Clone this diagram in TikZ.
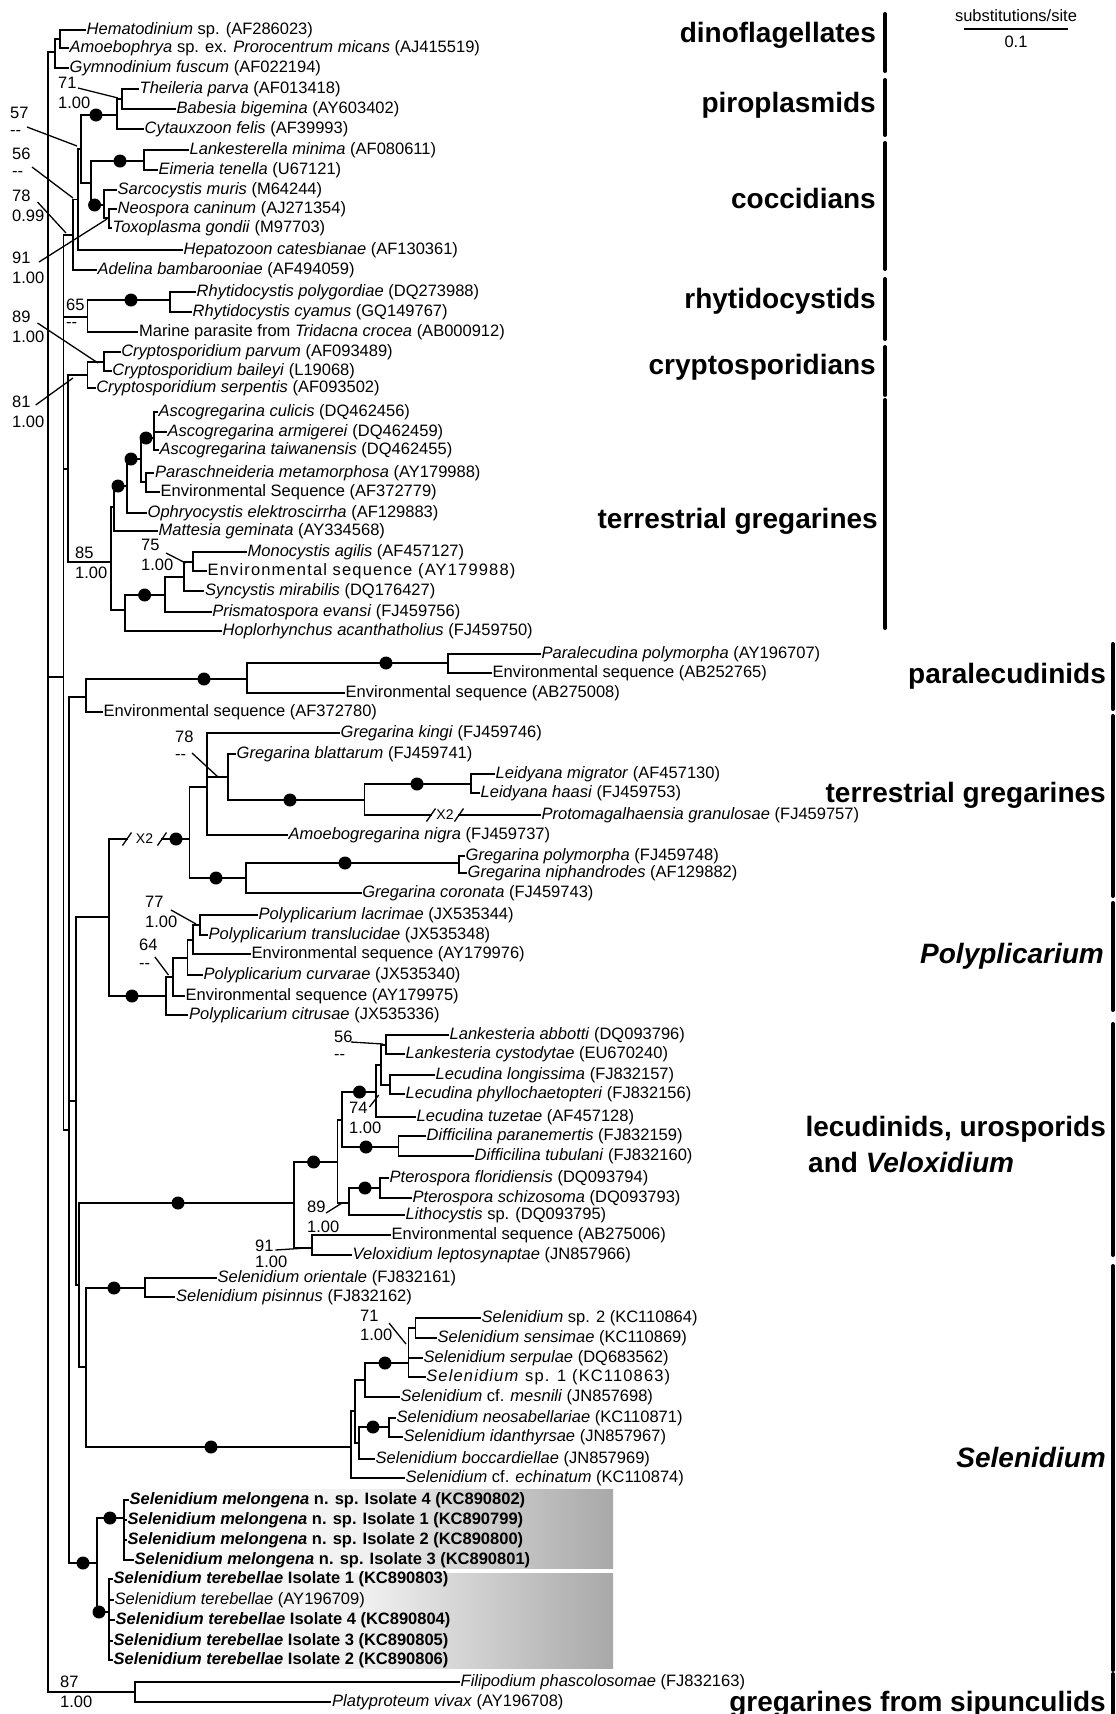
\documentclass[tikz,border=0pt]{standalone}
\usepackage{fontspec}
\setmainfont{Liberation Sans}
\newcommand{\nosupport}{-{}-}
\newcommand{\spaced}[1]{{\addfontfeature{LetterSpace=7}#1}}
\begin{document}
\begin{tikzpicture}[x=1pt,y=-1pt,
  br/.style={line width=1.8pt,line cap=rect},
  leaf/.style={anchor=west,inner sep=1.5pt,font=\fontsize{16.5}{18}\selectfont},
  supp/.style={anchor=west,inner sep=0pt,font=\fontsize{16.5}{18}\selectfont},
  bs/.style={circle,fill,inner sep=0pt,minimum size=13pt},
  ptr/.style={line width=1.3pt},
  brk/.style={inner sep=0pt,font=\fontsize{14}{16}\selectfont},
  grp/.style={anchor=east,inner sep=0pt,font=\fontsize{28}{30}\selectfont\bfseries},
  gbar/.style={line width=4pt,line cap=round}]
\useasboundingbox (0,0) rectangle (1116,1714);

% shaded boxes behind the new isolates
\shade[left color=white,right color=black!34,middle color=black!6] (120,1489) rectangle (613,1568);
\shade[left color=white,right color=black!34,middle color=black!6] (120,1573) rectangle (613,1668);

% leaves
\node[leaf] (hema) at (85,30) {\textit{Hematodinium} sp. (AF286023)};
\node[leaf] (amoe) at (68,48) {\textit{Amoebophrya} sp. ex. \textit{Prorocentrum micans} (AJ415519)};
\node[leaf] (gymn) at (68,68) {\textit{Gymnodinium fuscum} (AF022194)};
\node[leaf] (thei) at (138,89) {\textit{Theileria parva} (AF013418)};
\node[leaf] (babe) at (175,109) {\textit{Babesia bigemina} (AY603402)};
\node[leaf] (cyta) at (143,129) {\textit{Cytauxzoon felis} (AF39993)};
\node[leaf] (lank) at (188,150) {\textit{Lankesterella minima} (AF080611)};
\node[leaf] (eime) at (157,170) {\textit{Eimeria tenella} (U67121)};
\node[leaf] (sarc) at (116,190) {\textit{Sarcocystis muris} (M64244)};
\node[leaf] (neos) at (116,209) {\textit{Neospora caninum} (AJ271354)};
\node[leaf] (toxo) at (111,228) {\textit{Toxoplasma gondii} (M97703)};
\node[leaf] (hepa) at (182,250) {\textit{Hepatozoon catesbianae} (AF130361)};
\node[leaf] (adel) at (96,270) {\textit{Adelina bambarooniae} (AF494059)};
\node[leaf] (rpol) at (195,292) {\textit{Rhytidocystis polygordiae} (DQ273988)};
\node[leaf] (rcya) at (191,312) {\textit{Rhytidocystis cyamus} (GQ149767)};
\node[leaf] (mari) at (137.5,332) {Marine parasite from \textit{Tridacna crocea} (AB000912)};
\node[leaf] (cpar) at (119.6,352) {\textit{Cryptosporidium parvum} (AF093489)};
\node[leaf] (cbai) at (110.7,371) {\textit{Cryptosporidium baileyi} (L19068)};
\node[leaf] (cser) at (94.6,388) {\textit{Cryptosporidium serpentis} (AF093502)};
\node[leaf] (acul) at (157,412) {\textit{Ascogregarina culicis} (DQ462456)};
\node[leaf] (aarm) at (166,432) {\textit{Ascogregarina armigerei} (DQ462459)};
\node[leaf] (atai) at (158,450) {\textit{Ascogregarina taiwanensis} (DQ462455)};
\node[leaf] (pmet) at (153.5,473) {\textit{Paraschneideria metamorphosa} (AY179988)};
\node[leaf] (e779) at (159,492) {Environmental Sequence (AF372779)};
\node[leaf] (ophr) at (146,513) {\textit{Ophryocystis elektroscirrha} (AF129883)};
\node[leaf] (matt) at (157,531) {\textit{Mattesia geminata} (AY334568)};
\node[leaf] (mono) at (246,552) {\textit{Monocystis agilis} (AF457127)};
\node[leaf] (e988) at (206,571) {\spaced{Environmental sequence (AY179988)}};
\node[leaf] (sync) at (203.5,591) {\textit{Syncystis mirabilis} (DQ176427)};
\node[leaf] (pris) at (210.6,612) {\textit{Prismatospora evansi} (FJ459756)};
\node[leaf] (hopl) at (221,631) {\textit{Hoplorhynchus acanthatholius} (FJ459750)};
\node[leaf] (ppol) at (540,654) {\textit{Paralecudina polymorpha} (AY196707)};
\node[leaf] (e765) at (491,673) {Environmental sequence (AB252765)};
\node[leaf] (e008) at (344,693) {Environmental sequence (AB275008)};
\node[leaf] (e780) at (102,712) {Environmental sequence (AF372780)};
\node[leaf] (gkin) at (339,733) {\textit{Gregarina kingi} (FJ459746)};
\node[leaf] (gbla) at (235,754) {\textit{Gregarina blattarum} (FJ459741)};
\node[leaf] (lmig) at (494,774) {\textit{Leidyana migrator} (AF457130)};
\node[leaf] (lhaa) at (479,793) {\textit{Leidyana haasi} (FJ459753)};
\node[leaf] (prot) at (540,815) {\textit{Protomagalhaensia granulosae} (FJ459757)};
\node[leaf] (anig) at (287,835) {\textit{Amoebogregarina nigra} (FJ459737)};
\node[leaf] (gpol) at (464,856) {\textit{Gregarina polymorpha} (FJ459748)};
\node[leaf] (gnip) at (466,873) {\textit{Gregarina niphandrodes} (AF129882)};
\node[leaf] (gcor) at (360.6,893) {\textit{Gregarina coronata} (FJ459743)};
\node[leaf] (plac) at (257,915) {\textit{Polyplicarium lacrimae} (JX535344)};
\node[leaf] (ptra) at (207,935) {\textit{Polyplicarium translucidae} (JX535348)};
\node[leaf] (e976) at (250,954) {Environmental sequence (AY179976)};
\node[leaf] (pcur) at (202,975) {\textit{Polyplicarium curvarae} (JX535340)};
\node[leaf] (e975) at (184,996) {Environmental sequence (AY179975)};
\node[leaf] (pcit) at (187.5,1015) {\textit{Polyplicarium citrusae} (JX535336)};
\node[leaf] (labb) at (448,1035) {\textit{Lankesteria abbotti} (DQ093796)};
\node[leaf] (lcys) at (404,1054) {\textit{Lankesteria cystodytae} (EU670240)};
\node[leaf] (llon) at (434,1075) {\textit{Lecudina longissima} (FJ832157)};
\node[leaf] (lphy) at (404,1094) {\textit{Lecudina phyllochaetopteri} (FJ832156)};
\node[leaf] (ltuz) at (415,1117) {\textit{Lecudina tuzetae} (AF457128)};
\node[leaf] (dpar) at (425,1136) {\textit{Difficilina paranemertis} (FJ832159)};
\node[leaf] (dtub) at (473,1156) {\textit{Difficilina tubulani} (FJ832160)};
\node[leaf] (pflo) at (388,1178) {\textit{Pterospora floridiensis} (DQ093794)};
\node[leaf] (psch) at (411,1198) {\textit{Pterospora schizosoma} (DQ093793)};
\node[leaf] (lith) at (404,1215) {\textit{Lithocystis} sp. (DQ093795)};
\node[leaf] (e006) at (390,1235) {Environmental sequence (AB275006)};
\node[leaf] (velo) at (351,1255) {\textit{Veloxidium leptosynaptae} (JN857966)};
\node[leaf] (sori) at (216,1278) {\textit{Selenidium orientale} (FJ832161)};
\node[leaf] (spis) at (174.5,1297) {\textit{Selenidium pisinnus} (FJ832162)};
\node[leaf] (ssp2) at (480,1318) {\textit{Selenidium} sp. 2 (KC110864)};
\node[leaf] (ssen) at (436,1338) {\textit{Selenidium sensimae} (KC110869)};
\node[leaf] (sser) at (422,1358) {\textit{Selenidium serpulae} (DQ683562)};
\node[leaf] (ssp1) at (424.6,1377) {\spaced{\textit{Selenidium} sp. 1 (KC110863)}};
\node[leaf] (smes) at (399,1397) {\textit{Selenidium} cf. \textit{mesnili} (JN857698)};
\node[leaf] (sneo) at (395,1418) {\textit{Selenidium neosabellariae} (KC110871)};
\node[leaf] (sida) at (402,1437) {\textit{Selenidium idanthyrsae} (JN857967)};
\node[leaf] (sboc) at (374,1459) {\textit{Selenidium boccardiellae} (JN857969)};
\node[leaf] (sech) at (404,1478) {\textit{Selenidium} cf. \textit{echinatum} (KC110874)};
\node[leaf] (mel4) at (128,1500) {\textbf{\textit{Selenidium melongena} n. sp. Isolate 4 (KC890802)}};
\node[leaf] (mel1) at (126,1520) {\textbf{\textit{Selenidium melongena} n. sp. Isolate 1 (KC890799)}};
\node[leaf] (mel2) at (126,1540) {\textbf{\textit{Selenidium melongena} n. sp. Isolate 2 (KC890800)}};
\node[leaf] (mel3) at (133,1560) {\textbf{\textit{Selenidium melongena} n. sp. Isolate 3 (KC890801)}};
\node[leaf] (ter1) at (112,1579) {\textbf{\textit{Selenidium terebellae} Isolate 1 (KC890803)}};
\node[leaf] (tera) at (113,1600) {\textit{Selenidium terebellae} (AY196709)};
\node[leaf] (ter4) at (114,1620) {\textbf{\textit{Selenidium terebellae} Isolate 4 (KC890804)}};
\node[leaf] (ter3) at (112,1641) {\textbf{\textit{Selenidium terebellae} Isolate 3 (KC890805)}};
\node[leaf] (ter2) at (112,1660) {\textbf{\textit{Selenidium terebellae} Isolate 2 (KC890806)}};
\node[leaf] (fili) at (459,1682) {\textit{Filipodium phascolosomae} (FJ832163)};
\node[leaf] (plat) at (330.5,1702) {\textit{Platyproteum vivax} (AY196708)};

% internal nodes
\coordinate (R) at (48,677);
\coordinate (D0) at (55,52);
\coordinate (D1) at (60,39);
\coordinate (AP) at (63.5,677);
\coordinate (B2) at (73,235);
\coordinate (B1) at (78,199.5);
\coordinate (NPC) at (81,149);
\coordinate (PP) at (117,115);
\coordinate (TB) at (122,99);
\coordinate (C2) at (91,183);
\coordinate (LE) at (144,161);
\coordinate (SC) at (103.6,205);
\coordinate (NT) at (109,218);
\coordinate (RH) at (87.5,317);
\coordinate (RP) at (170,300);
\coordinate (U2) at (68,469);
\coordinate (CR) at (87.5,375);
\coordinate (CP) at (103.6,362);
\coordinate (TG0) at (110.7,562);
\coordinate (TG1) at (114,507);
\coordinate (TGa) at (126.7,486);
\coordinate (TGb) at (141,459);
\coordinate (AS) at (154,438);
\coordinate (PE) at (146,482);
\coordinate (TG2) at (125,610);
\coordinate (TG3) at (165,595);
\coordinate (TG4) at (184,577);
\coordinate (MS) at (193,562);
\coordinate (V0) at (69,1130);
\coordinate (PL) at (86,697);
\coordinate (PA) at (247,679);
\coordinate (PB) at (448,663);
\coordinate (V1) at (76,1101);
\coordinate (E) at (109,917);
\coordinate (eb1) at (127,839);
\coordinate (eb2) at (162,839);
\coordinate (DD) at (189.5,839);
\coordinate (BB) at (207,787);
\coordinate (AA) at (228,777);
\coordinate (LC) at (364.5,800);
\coordinate (pb1) at (431,815);
\coordinate (pb2) at (459,815);
\coordinate (LP) at (471,784);
\coordinate (GP) at (246,878);
\coordinate (GQ) at (459,863);
\coordinate (P5) at (166,996);
\coordinate (P4) at (173,977);
\coordinate (P3) at (187.5,958);
\coordinate (P2) at (193,940);
\coordinate (LT) at (200,925);
\coordinate (W1) at (79,1285);
\coordinate (L0) at (294,1203);
\coordinate (L1) at (337.5,1162);
\coordinate (L2) at (342,1120);
\coordinate (Ld) at (376,1092);
\coordinate (Lc) at (381,1065);
\coordinate (La) at (386,1045);
\coordinate (Lb) at (390,1085);
\coordinate (DF) at (398.5,1147);
\coordinate (L3) at (349,1203);
\coordinate (PT) at (380,1188);
\coordinate (L4) at (312,1248);
\coordinate (S0) at (86,1367);
\coordinate (S1) at (144.6,1288);
\coordinate (S2) at (351,1447);
\coordinate (S6) at (355,1411);
\coordinate (S4) at (365,1380);
\coordinate (SP) at (408.5,1363);
\coordinate (SS) at (415.5,1328);
\coordinate (S5) at (359,1443);
\coordinate (NI) at (389,1427);
\coordinate (M0) at (97,1563);
\coordinate (M1) at (124,1518);
\coordinate (M2) at (109,1612);
\coordinate (SIP) at (135,1692);

% branches
\draw[br] (R) |- (D0) (R) -- (AP) (R) |- (SIP);
\draw[br] (D0) |- (D1) (D0) |- (gymn.west) (D1) |- (hema.west) (D1) |- (amoe.west);
\draw[br] (AP) |- (B2) (AP) |- (RH) (AP) |- (U2) (AP) |- (V0);
\draw[br] (B2) |- (B1) (B2) |- (adel.west) (B1) |- (NPC) (B1) |- (hepa.west);
\draw[br] (NPC) |- (PP) (NPC) |- (C2) (PP) |- (TB) (PP) |- (cyta.west);
\draw[br] (TB) |- (thei.west) (TB) |- (babe.west);
\draw[br] (C2) |- (LE) (C2) |- (SC) (LE) |- (lank.west) (LE) |- (eime.west);
\draw[br] (SC) |- (sarc.west) (SC) |- (NT) (NT) |- (neos.west) (NT) |- (toxo.west);
\draw[br] (RH) |- (RP) (RH) |- (mari.west) (RP) |- (rpol.west) (RP) |- (rcya.west);
\draw[br] (U2) |- (CR) (U2) |- (TG0) (CR) |- (CP) (CR) |- (cser.west);
\draw[br] (CP) |- (cpar.west) (CP) |- (cbai.west);
\draw[br] (TG0) |- (TG1) (TG0) |- (TG2) (TG1) |- (TGa) (TG1) |- (matt.west);
\draw[br] (TGa) |- (TGb) (TGa) |- (ophr.west) (TGb) |- (AS) (TGb) |- (PE);
\draw[br] (AS) |- (acul.west) (AS) |- (aarm.west) (AS) |- (atai.west);
\draw[br] (PE) |- (pmet.west) (PE) |- (e779.west);
\draw[br] (TG2) |- (TG3) (TG2) |- (hopl.west) (TG3) |- (TG4) (TG3) |- (pris.west);
\draw[br] (TG4) |- (MS) (TG4) |- (sync.west) (MS) |- (mono.west) (MS) |- (e988.west);
\draw[br] (V0) |- (PL) (V0) |- (V1) (V0) |- (M0);
\draw[br] (PL) |- (PA) (PL) |- (e780.west) (PA) |- (PB) (PA) |- (e008.west);
\draw[br] (PB) |- (ppol.west) (PB) |- (e765.west);
\draw[br] (V1) |- (E) (V1) |- (W1);
\draw[br] (E) |- (eb1) (eb2) -- (DD) (E) |- (P5);
\draw[br] (DD) |- (BB) (DD) |- (GP);
\draw[br] (BB) |- (gkin.west) (BB) |- (AA) (BB) |- (anig.west);
\draw[br] (AA) |- (gbla.west) (AA) |- (LC);
\draw[br] (LC) |- (LP) (LC) |- (pb1) (pb2) -- (prot.west);
\draw[br] (LP) |- (lmig.west) (LP) |- (lhaa.west);
\draw[br] (GP) |- (GQ) (GP) |- (gcor.west) (GQ) |- (gpol.west) (GQ) |- (gnip.west);
\draw[br] (P5) |- (P4) (P5) |- (pcit.west) (P4) |- (P3) (P4) |- (e975.west);
\draw[br] (P3) |- (P2) (P3) |- (pcur.west) (P2) |- (LT) (P2) |- (e976.west);
\draw[br] (LT) |- (plac.west) (LT) |- (ptra.west);
\draw[br] (W1) |- (L0) (W1) |- (S0);
\draw[br] (L0) |- (L1) (L0) |- (L4) (L1) |- (L2) (L1) |- (L3);
\draw[br] (L2) |- (Ld) (L2) |- (DF) (Ld) |- (Lc) (Ld) |- (ltuz.west);
\draw[br] (Lc) |- (La) (Lc) |- (Lb);
\draw[br] (La) |- (labb.west) (La) |- (lcys.west) (Lb) |- (llon.west) (Lb) |- (lphy.west);
\draw[br] (DF) |- (dpar.west) (DF) |- (dtub.west);
\draw[br] (L3) |- (PT) (L3) |- (lith.west) (PT) |- (pflo.west) (PT) |- (psch.west);
\draw[br] (L4) |- (e006.west) (L4) |- (velo.west);
\draw[br] (S0) |- (S1) (S0) |- (S2) (S1) |- (sori.west) (S1) |- (spis.west);
\draw[br] (S2) |- (S6) (S2) |- (sech.west) (S6) |- (S4) (S6) |- (S5);
\draw[br] (S4) |- (SP) (S4) |- (smes.west);
\draw[br] (SP) |- (SS) (SP) |- (sser.west) (SP) |- (ssp1.west);
\draw[br] (SS) |- (ssp2.west) (SS) |- (ssen.west);
\draw[br] (S5) |- (NI) (S5) |- (sboc.west) (NI) |- (sneo.west) (NI) |- (sida.west);
\draw[br] (M0) |- (M1) (M0) |- (M2);
\draw[br] (M1) |- (mel4.west) (M1) |- (mel1.west) (M1) |- (mel2.west) (M1) |- (mel3.west);
\draw[br] (M2) |- (ter1.west) (M2) |- (tera.west) (M2) |- (ter4.west) (M2) |- (ter3.west) (M2) |- (ter2.west);
\draw[br] (SIP) |- (fili.west) (SIP) |- (plat.west);

% broken branches
\node[brk] (xtwoa) at (144.5,839) {X2};
\node[brk] (xtwob) at (445,815) {X2};
\draw[ptr] (122.5,845.5) -- (131.5,832.5) (157.5,845.5) -- (166.5,832.5);
\draw[ptr] (426.5,821.5) -- (435.5,808.5) (454.5,821.5) -- (463.5,808.5);

% well supported nodes
\foreach \x/\y [count=\i] in {96/115,120/161,94.6/205,131/300,146/438,131/459,118/486,
  144.6/595,204/679,386/663,176/839,290/800,417/784,216/878,345/863,132/996,
  178/1203,313.6/1162,359.5/1092,366/1147,365/1188,114/1288,211/1447,385/1363,
  373/1427,83/1563,110/1518,99/1612}
  \node[bs] (dot\i) at (\x,\y) {};

% support values
\foreach \x/\y/\a/\b/\d [count=\i] in {58/83/71/1.00/20,10/113/57/\nosupport/20,12/154/56/\nosupport/20,
  12/196/78/0.99/20,12/258/91/1.00/20,66/305/65/\nosupport/20,12/317/89/1.00/20,12/402/81/1.00/20,
  75/553/85/1.00/20,141/545/75/1.00/20,175/737/78/\nosupport/20,145/902/77/1.00/20,
  139/945/64/\nosupport/21,334/1037/56/\nosupport/20,349/1108/74/1.00/20,307/1207/89/1.00/20,
  255/1246/91/1.00/16,360/1316/71/1.00/19,60/1682/87/1.00/20}
{
  \node[supp] (supa\i) at (\x,\y) {\a};
  \node[supp] (supb\i) at (\x,\y+\d) {\b};
}
\foreach \xa/\ya/\xb/\yb in {78/88/118/98,27/127/77/146,32/167/73/198,37.5/202/66/233,
  39/262/107/219,37.5/323/98/363,35.7/405/73/378,166/553/185.6/563,192/753/218/777,
  171/910/196/924,155/957/168.5/975,351/1042/383/1044,369.5/1107/378.7/1095,
  326/1213/342/1203,275.4/1250/306.6/1248,389/1323/406/1344}
  \draw[ptr] (\xa,\ya) -- (\xb,\yb);

% scale bar
\node[inner sep=0pt,font=\fontsize{16.5}{18}\selectfont] (sbt) at (1016,16) {substitutions/site};
\coordinate (sbl) at (964,29);
\coordinate (sbr) at (1068,29);
\draw[line width=1.8pt] (sbl) -- (sbr);
\node[inner sep=0pt,font=\fontsize{16.5}{18}\selectfont] (sbn) at (1016,42) {0.1};

% groups
\node[grp] (gdin) at (876,35) {dinoflagellates};
\node[grp] (gpir) at (876,105) {piroplasmids};
\node[grp] (gcoc) at (876,198) {coccidians};
\node[grp] (grhy) at (876,301) {rhytidocystids};
\node[grp] (gcry) at (876,367) {cryptosporidians};
\node[grp] (gtr1) at (878,521) {terrestrial gregarines};
\node[grp] (gpar) at (1106,676) {paralecudinids};
\node[grp] (gtr2) at (1106,795) {terrestrial gregarines};
\node[grp] (gpoly) at (1104,956) {\textit{Polyplicarium}};
\node[grp] (glec1) at (1106,1129) {lecudinids, urosporids};
\node[grp,anchor=west] (glec2) at (808,1162) {and \textit{Veloxidium}};
\node[grp] (gsel) at (1106,1457) {\textit{Selenidium}};
\node[grp] (gsip) at (1106,1704) {gregarines from sipunculids};
\draw[gbar] (885,14) -- (885,71);
\draw[gbar] (885,80) -- (885,135);
\draw[gbar] (885,143) -- (885,269);
\draw[gbar] (885,279) -- (885,339);
\draw[gbar] (885,347) -- (885,395);
\draw[gbar] (885,400) -- (885,628);
\draw[gbar] (1113,644) -- (1113,709);
\draw[gbar] (1113,716) -- (1113,896);
\draw[gbar] (1113,903) -- (1113,1010);
\draw[gbar] (1113,1024) -- (1113,1255);
\draw[gbar] (1113,1266) -- (1113,1670);
\draw[gbar] (1113,1674) -- (1113,1720);
\end{tikzpicture}
\end{document}
